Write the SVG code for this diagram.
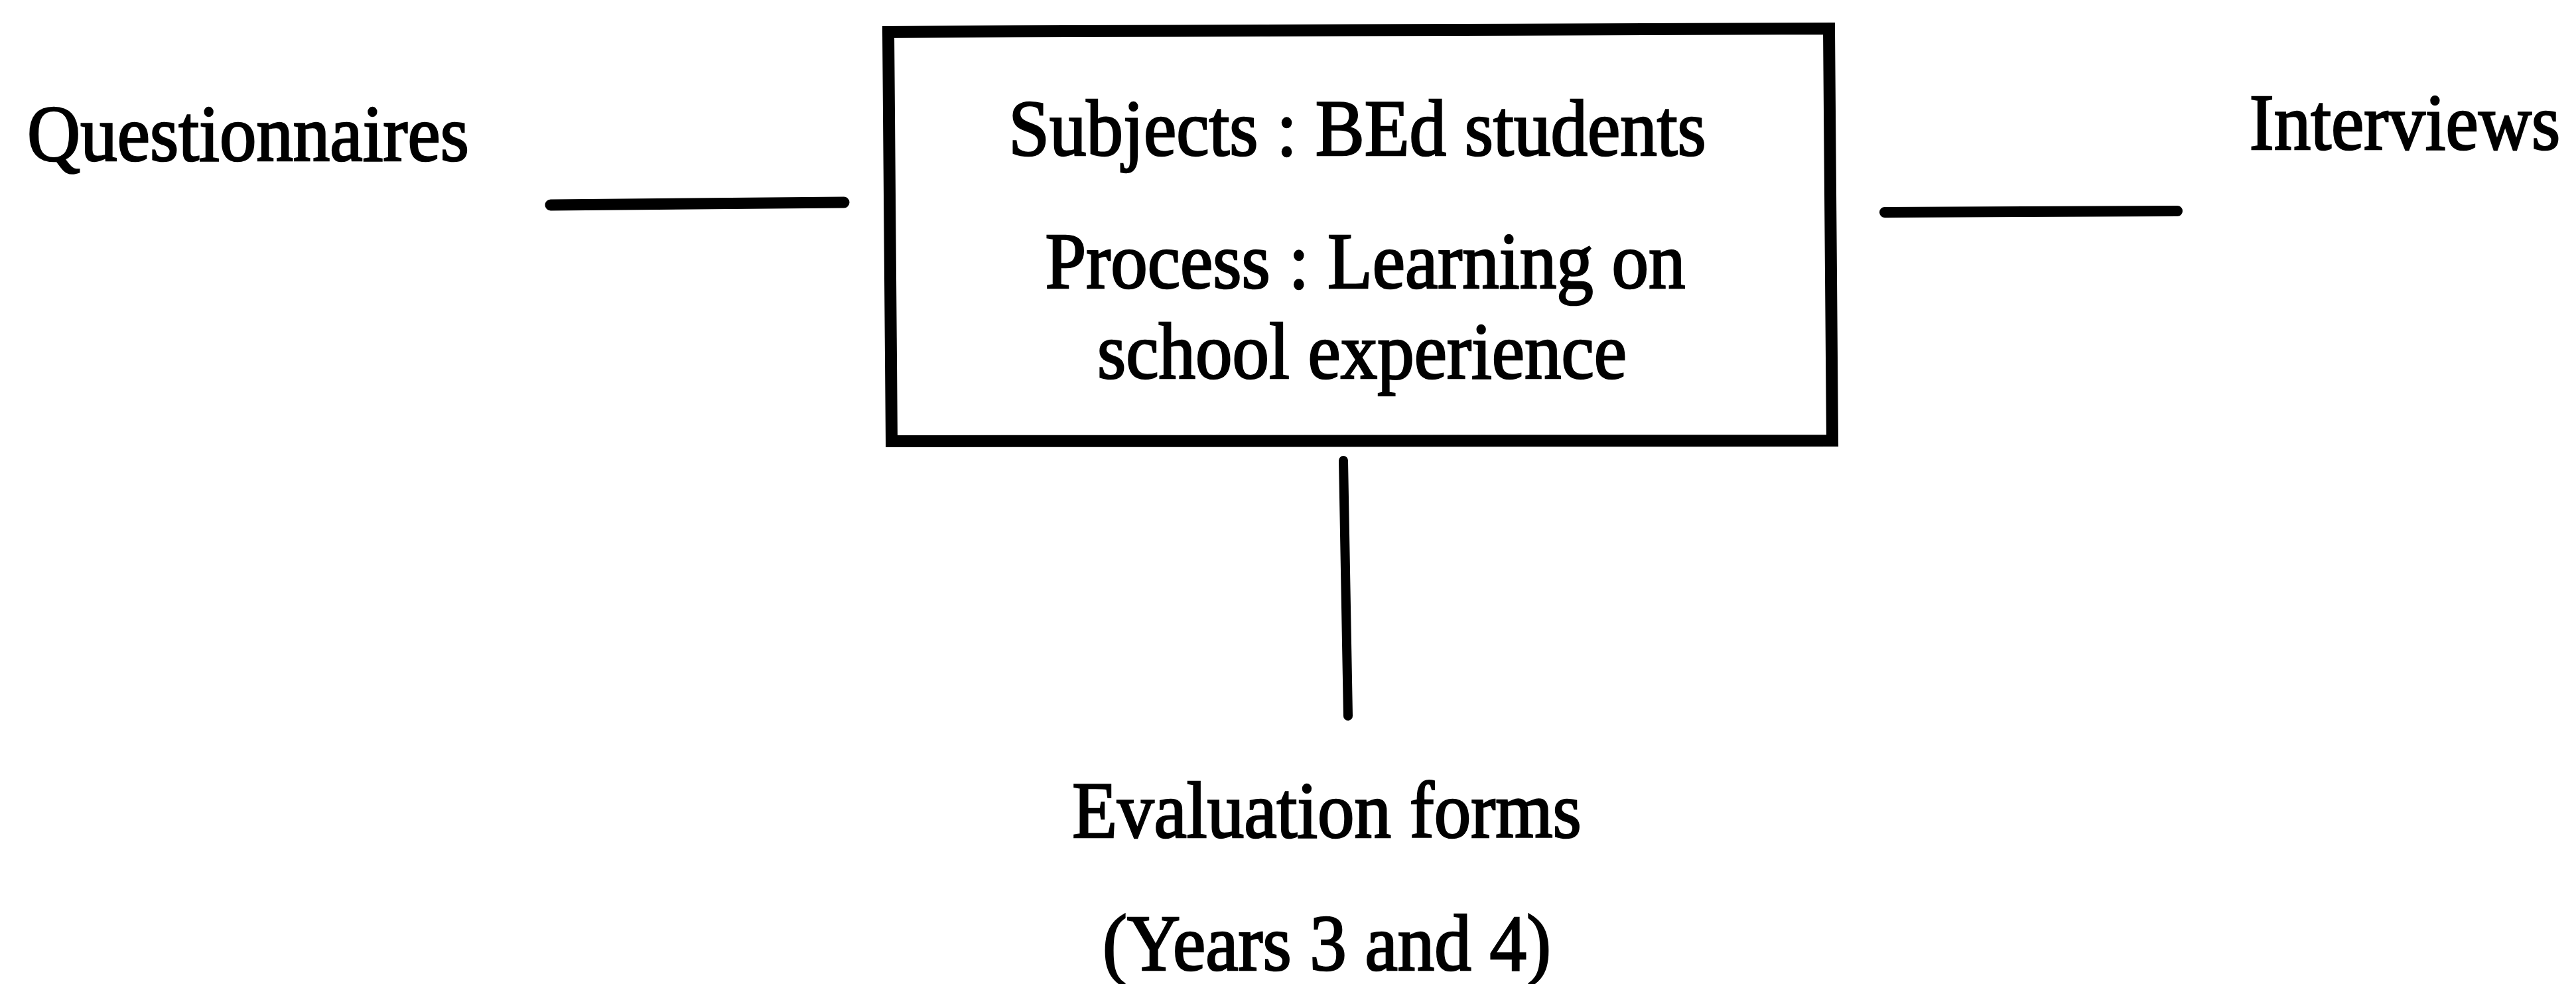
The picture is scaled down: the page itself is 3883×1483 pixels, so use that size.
<svg xmlns="http://www.w3.org/2000/svg" width="3883" height="1483" viewBox="0 0 3883 1483">
  <style>
    .lbl { font-family: "Liberation Serif", "Times New Roman", serif; font-size: 111px; fill: #000; stroke: #000; stroke-width: 2.5px; text-anchor: middle; }
    .box { fill: none; stroke: #000; stroke-width: 18; stroke-linejoin: miter; }
    .link { fill: none; stroke: #000; stroke-linecap: round; }
  </style>
  <rect width="3883" height="1483" fill="#fff"/>

  <!-- connectors -->
  <g id="connectors">
    <line class="link" x1="830" y1="309" x2="1272" y2="305" stroke-width="17"/>
    <line class="link" x1="2841" y1="320" x2="3282" y2="318" stroke-width="16"/>
    <line class="link" x1="2025" y1="694" x2="2032" y2="1079" stroke-width="14"/>
  </g>

  <!-- central study box -->
  <g id="study">
    <path class="box" d="M1339,48 L2757,43 L2762,664 L1344,665 Z"/>
    <text class="lbl" transform="translate(2046,234) scale(1,1.09)">Subjects : BEd students</text>
    <text class="lbl" transform="translate(2058,434) scale(1,1.09)">Process : Learning on</text>
    <text class="lbl" transform="translate(2053,570) scale(1,1.09)">school experience</text>
  </g>

  <g id="questionnaires">
    <text class="lbl" transform="translate(374,242) scale(1,1.09)">Questionnaires</text>
  </g>

  <g id="interviews">
    <text class="lbl" transform="translate(3625,225) scale(1,1.09)">Interviews</text>
  </g>

  <g id="evaluation">
    <text class="lbl" transform="translate(2000,1262) scale(1,1.09)">Evaluation forms</text>
    <text class="lbl" transform="translate(2000,1462) scale(1,1.09)">(Years 3 and 4)</text>
  </g>
</svg>
